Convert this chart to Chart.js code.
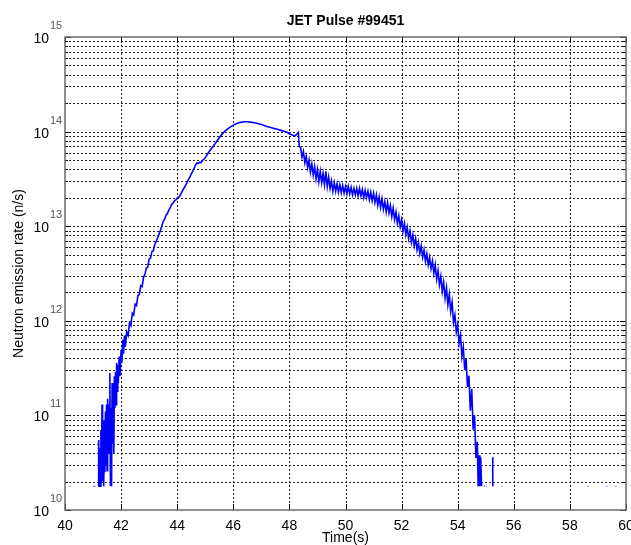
<!DOCTYPE html>
<html>
<head>
<meta charset="utf-8">
<script src="https://cdn.jsdelivr.net/npm/chart.js@4.4.0/dist/chart.umd.min.js"></script>
<style>
  html, body { margin: 0; padding: 0; background: #fff; }
  canvas { display: block; }
</style>
</head>
<body>
<canvas id="pulse" width="631" height="545"></canvas>
<script>
var times = [
  41.18, 41.20, 41.22, 41.24, 41.26, 41.28, 41.30, 41.32, 41.34, 41.36,
  41.38, 41.40, 41.42, 41.44, 41.46, 41.48, 41.50, 41.52, 41.54, 41.56,
  41.58, 41.60, 41.62, 41.64, 41.66, 41.68, 41.70, 41.72, 41.74, 41.76,
  41.78, 41.80, 41.82, 41.84, 41.86, 41.88, 41.90, 41.93, 41.96, 42.00,
  42.03, 42.06, 42.09, 42.12, 42.15, 42.20, 42.25, 42.30, 42.35, 42.40,
  42.45, 42.50, 42.55, 42.60, 42.65, 42.70, 42.75, 42.80, 42.85, 42.90,
  42.95, 43.00, 43.05, 43.10, 43.15, 43.20, 43.25, 43.30, 43.35, 43.40,
  43.45, 43.50, 43.55, 43.60, 43.65, 43.70, 43.75, 43.80, 43.85, 43.90,
  43.95, 44.00, 44.05, 44.10, 44.15, 44.20, 44.25, 44.30, 44.35, 44.40,
  44.45, 44.50, 44.55, 44.60, 44.65, 44.70, 44.75, 44.80, 44.85, 44.90,
  44.95, 45.00, 45.05, 45.10, 45.15, 45.20, 45.25, 45.30, 45.40, 45.50,
  45.60, 45.70, 45.80, 45.90, 46.00, 46.10, 46.20, 46.30, 46.40, 46.50,
  46.60, 46.70, 46.80, 46.90, 47.00, 47.10, 47.20, 47.30, 47.40, 47.50,
  47.60, 47.70, 47.80, 47.90, 48.00, 48.10, 48.20, 48.28, 48.32, 48.35,
  48.40, 48.45, 48.50, 48.55, 48.60, 48.65, 48.70, 48.75, 48.80, 48.85,
  48.90, 48.95, 49.00, 49.05, 49.10, 49.15, 49.20, 49.25, 49.30, 49.35,
  49.40, 49.45, 49.50, 49.55, 49.60, 49.65, 49.70, 49.75, 49.80, 49.85,
  49.90, 49.95, 50.00, 50.05, 50.10, 50.15, 50.20, 50.25, 50.30, 50.35,
  50.40, 50.45, 50.50, 50.55, 50.60, 50.65, 50.70, 50.75, 50.80, 50.85,
  50.90, 50.95, 51.00, 51.05, 51.10, 51.15, 51.20, 51.25, 51.30, 51.35,
  51.40, 51.45, 51.50, 51.55, 51.60, 51.65, 51.70, 51.75, 51.80, 51.85,
  51.90, 51.95, 52.00, 52.05, 52.10, 52.15, 52.20, 52.25, 52.30, 52.35,
  52.40, 52.45, 52.50, 52.55, 52.60, 52.65, 52.70, 52.75, 52.80, 52.85,
  52.90, 52.95, 53.00, 53.05, 53.10, 53.15, 53.20, 53.25, 53.30, 53.35,
  53.40, 53.45, 53.50, 53.55, 53.60, 53.65, 53.70, 53.75, 53.80, 53.85,
  53.90, 53.95, 54.00, 54.05, 54.10, 54.15, 54.20, 54.25, 54.30, 54.35,
  54.40, 54.45, 54.50, 54.55, 54.60, 54.65, 54.70, 54.73, 54.76, 54.79,
  54.82, 54.85, 54.90, 55.25, 55.25, 55.30
];
var rates = [
  1.78e10, 5.5e10, 1.78e10, 4.5e10, 1.78e10, 7.0e10, 2.0e10, 1.3e11, 2.0e10, 8.9e10,
  1.78e10, 6.0e10, 2.5e10, 1.1e11, 3.0e10, 1.3e11, 2.6e10, 1.5e11, 4.0e10, 1.3e11,
  4.5e10, 2.8e11, 1.78e10, 1.2e11, 1.78e10, 2.2e11, 5.0e10, 1.9e11, 4.0e10, 2.6e11,
  1.2e11, 2.9e11, 1.3e11, 3.6e11, 1.8e11, 3.4e11, 2.2e11, 4.2e11, 2.6e11, 4.9e11,
  3.6e11, 6.3e11, 4.5e11, 7.0e11, 5.3e11, 7.6e11, 7.0e11, 9.5e11, 8.9e11, 1.2e12,
  1.15e12, 1.5e12, 1.45e12, 1.85e12, 1.9e12, 2.35e12, 2.3e12, 2.9e12, 3.1e12, 3.6e12,
  3.7e12, 4.5e12, 4.6e12, 5.4e12, 5.5e12, 6.4e12, 6.9e12, 7.5e12, 8.2e12, 9.0e12,
  1.0e13, 1.12e13, 1.18e13, 1.3e13, 1.36e13, 1.48e13, 1.56e13, 1.7e13, 1.76e13, 1.85e13,
  1.9e13, 1.98e13, 2.02e13, 2.1e13, 2.25e13, 2.4e13, 2.55e13, 2.7e13, 2.9e13, 3.1e13,
  3.3e13, 3.55e13, 3.8e13, 4.1e13, 4.4e13, 4.65e13, 4.6e13, 4.75e13, 4.7e13, 4.95e13,
  5.1e13, 5.3e13, 5.6e13, 5.9e13, 6.2e13, 6.5e13, 6.8e13, 7.1e13, 7.8e13, 8.6e13,
  9.4e13, 1.01e14, 1.07e14, 1.12e14, 1.17e14, 1.21e14, 1.24e14, 1.26e14, 1.27e14, 1.27e14,
  1.26e14, 1.25e14, 1.23e14, 1.21e14, 1.19e14, 1.16e14, 1.13e14, 1.11e14, 1.09e14, 1.07e14,
  1.05e14, 1.03e14, 1.01e14, 9.9e13, 9.5e13, 9.2e13, 9.0e13, 9.5e13, 9.8e13, 7.0e13,
  6.76e13, 5.37e13, 6.17e13, 4.68e13, 5.5e13, 4.17e13, 5.0e13, 3.72e13, 4.57e13, 3.47e13,
  4.27e13, 3.16e13, 3.98e13, 2.95e13, 3.8e13, 2.88e13, 3.63e13, 2.75e13, 3.8e13, 2.63e13,
  3.31e13, 2.51e13, 3.02e13, 2.34e13, 2.88e13, 2.34e13, 2.82e13, 2.29e13, 2.75e13, 2.26e13,
  2.69e13, 2.24e13, 2.63e13, 2.19e13, 2.63e13, 2.19e13, 2.57e13, 2.14e13, 2.51e13, 2.14e13,
  2.51e13, 2.09e13, 2.51e13, 2.09e13, 2.45e13, 2.0e13, 2.4e13, 2.0e13, 2.34e13, 1.91e13,
  2.29e13, 1.86e13, 2.24e13, 1.78e13, 2.14e13, 1.66e13, 2.04e13, 1.58e13, 1.95e13, 1.51e13,
  1.82e13, 1.41e13, 1.78e13, 1.38e13, 1.66e13, 1.26e13, 1.55e13, 1.17e13, 1.41e13, 1.07e13,
  1.29e13, 9.77e12, 1.17e13, 8.91e12, 1.07e13, 8.13e12, 9.77e12, 7.41e12, 8.91e12, 6.76e12,
  8.13e12, 6.17e12, 7.41e12, 5.62e12, 6.76e12, 5.13e12, 6.17e12, 4.68e12, 5.62e12, 4.27e12,
  5.13e12, 3.89e12, 4.68e12, 3.55e12, 4.27e12, 3.16e12, 3.89e12, 2.75e12, 3.39e12, 2.4e12,
  2.95e12, 2.04e12, 2.57e12, 1.74e12, 2.24e12, 1.48e12, 1.91e12, 1.26e12, 1.58e12, 9.55e11,
  1.15e12, 7.59e11, 9.12e11, 5.75e11, 7.08e11, 4.17e11, 5.25e11, 3.02e11, 3.98e11, 2.0e11,
  2.63e11, 1.12e11, 1.91e11, 7.08e10, 1.0e11, 3.55e10, 5.25e10, 1.78e10, 3.8e10, 1.78e10,
  3.6e10, 1.78e10, null, 1.78e10, 3.6e10, null
];
// isolated samples sitting near the floor
var dotTimes = [40.18, 41.02, 41.07, 54.95, 55.02, 55.58, 58.65, 59.32, 59.64, 59.89];
var dotRates = [1.78e10, 1.78e10, 1.78e10, 1.78e10, 1.78e10, 1.78e10, 1.78e10, 1.78e10, 1.78e10, 3.4e10];

var xTickValues = [40, 42, 44, 46, 48, 50, 52, 54, 56, 58, 60];
var yExponents = [10, 11, 12, 13, 14, 15];
var mantissas = [1, 2, 3, 4, 5, 6, 7, 8, 9];

var FONT = '"Liberation Sans", Arial, Helvetica, sans-serif';

var yTicks = [];
yExponents.forEach(function (e, i) {
    if (i === yExponents.length - 1) {
        yTicks.push({value: Math.pow(10, e), major: true, exp: e});
        return;
    }
    mantissas.forEach(function (m) {
        yTicks.push({value: m * Math.pow(10, e), major: m === 1, exp: e});
    });
});

var tracePoints = times.map(function (t, i) {
    return {x: t, y: rates[i]};
});
var dotPoints = dotTimes.map(function (t, i) {
    return {x: t, y: dotRates[i]};
});

function px(v) {
    return Math.round(v) + 0.5;
}

var matlabAxes = {
    id: 'matlabAxes',
    beforeDatasetsDraw: function (chart) {
        var ctx = chart.ctx, area = chart.chartArea;
        var xs = chart.scales.x, ys = chart.scales.y;
        ctx.save();
        ctx.strokeStyle = '#222';
        ctx.lineWidth = 1;
        ctx.setLineDash([2, 2]);
        yTicks.forEach(function (t) {
            if (t.value <= ys.min || t.value >= ys.max) {
                return;
            }
            var y = px(ys.getPixelForValue(t.value));
            ctx.beginPath();
            ctx.moveTo(area.left, y);
            ctx.lineTo(area.right, y);
            ctx.stroke();
        });
        xTickValues.forEach(function (v) {
            if (v <= xs.min || v >= xs.max) {
                return;
            }
            var x = px(xs.getPixelForValue(v));
            ctx.beginPath();
            ctx.moveTo(x, area.top);
            ctx.lineTo(x, area.bottom);
            ctx.stroke();
        });
        ctx.restore();
    },
    afterDraw: function (chart) {
        var ctx = chart.ctx, area = chart.chartArea;
        var xs = chart.scales.x, ys = chart.scales.y;
        ctx.save();

        // tick marks, pointing inwards on all four sides
        ctx.strokeStyle = '#000';
        ctx.lineWidth = 1;
        ctx.beginPath();
        yTicks.forEach(function (t) {
            var y = px(ys.getPixelForValue(t.value));
            var len = t.major ? 6 : 3;
            ctx.moveTo(area.left, y);
            ctx.lineTo(area.left + len, y);
            ctx.moveTo(area.right, y);
            ctx.lineTo(area.right - len, y);
        });
        xTickValues.forEach(function (v) {
            var x = px(xs.getPixelForValue(v));
            ctx.moveTo(x, area.bottom);
            ctx.lineTo(x, area.bottom - 6);
            ctx.moveTo(x, area.top);
            ctx.lineTo(x, area.top + 6);
        });
        ctx.stroke();

        // box
        ctx.strokeStyle = '#6a6a6a';
        ctx.lineWidth = 1.5;
        ctx.strokeRect(area.left, area.top, area.right - area.left, area.bottom - area.top);

        // y tick labels as 10 with a raised exponent
        yTicks.forEach(function (t) {
            if (!t.major) {
                return;
            }
            var y = ys.getPixelForValue(t.value);
            ctx.font = '14px ' + FONT;
            ctx.textAlign = 'right';
            ctx.textBaseline = 'alphabetic';
            ctx.fillStyle = '#000';
            ctx.fillText('10', area.left - 16, y + 6);
            ctx.font = '11px ' + FONT;
            ctx.textAlign = 'left';
            ctx.fillStyle = '#555';
            ctx.fillText(String(t.exp), area.left - 15, y - 8);
        });

        // x tick labels
        ctx.fillStyle = '#000';
        ctx.font = '14px ' + FONT;
        ctx.textAlign = 'center';
        xTickValues.forEach(function (v) {
            ctx.fillText(String(v), xs.getPixelForValue(v), 530);
        });

        // titles
        var cx = (area.left + area.right) / 2;
        ctx.font = 'bold 14px ' + FONT;
        ctx.fillText('JET Pulse #99451', cx, 25);
        ctx.font = '14px ' + FONT;
        ctx.fillText('Time(s)', cx, 542);

        ctx.translate(19, (area.top + area.bottom) / 2);
        ctx.rotate(-Math.PI / 2);
        ctx.textBaseline = 'middle';
        ctx.fillText('Neutron emission rate (n/s)', 0, 0);
        ctx.restore();
    }
};

new Chart(document.getElementById('pulse'), {
    type: 'line',
    data: {
        datasets: [{
            data: tracePoints,
            borderColor: '#0000ff',
            borderWidth: 1.6,
            pointRadius: 0,
            tension: 0,
            spanGaps: false
        }, {
            data: dotPoints,
            showLine: false,
            pointStyle: 'rect',
            pointRadius: 0.8,
            borderWidth: 0,
            backgroundColor: 'rgba(0, 0, 255, 0.6)'
        }]
    },
    options: {
        responsive: false,
        devicePixelRatio: 1,
        animation: false,
        layout: {padding: {left: 65, top: 37, right: 5, bottom: 35}},
        plugins: {
            legend: {display: false},
            tooltip: {enabled: false},
            title: {display: false}
        },
        scales: {
            x: {
                type: 'linear',
                min: 40,
                max: 60,
                grid: {display: false},
                border: {display: false},
                ticks: {display: false},
                afterBuildTicks: function (scale) {
                    scale.ticks = xTickValues.map(function (v) {
                        return {value: v};
                    });
                },
                afterFit: function (scale) {
                    scale.height = 0;
                }
            },
            y: {
                type: 'logarithmic',
                min: 1e10,
                max: 1e15,
                grid: {display: false},
                border: {display: false},
                ticks: {display: false},
                afterBuildTicks: function (scale) {
                    scale.ticks = yTicks.map(function (t) {
                        return {value: t.value};
                    });
                },
                afterFit: function (scale) {
                    scale.width = 0;
                }
            }
        }
    },
    plugins: [matlabAxes]
});
</script>
</body>
</html>
